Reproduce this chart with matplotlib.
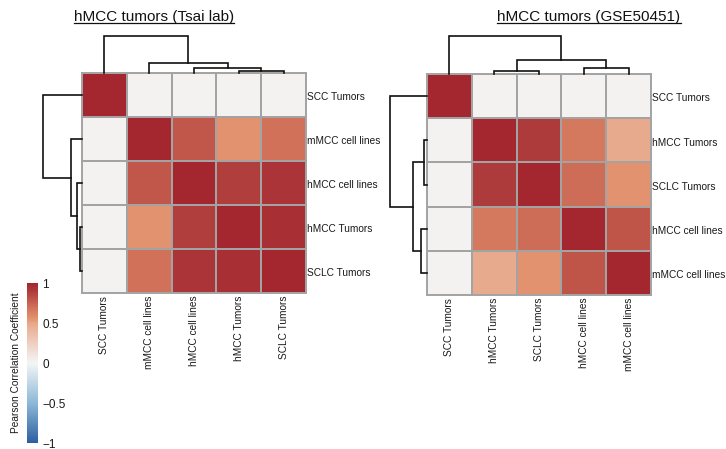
import numpy as np
import matplotlib
matplotlib.use("Agg")
import matplotlib.pyplot as plt
from matplotlib.colors import LinearSegmentedColormap
from matplotlib.lines import Line2D

plt.rcParams['font.family'] = ['Liberation Sans', 'DejaVu Sans']

# data
tsai_labels = ["SCC Tumors", "mMCC cell lines", "hMCC cell lines", "hMCC Tumors", "SCLC Tumors"]
tsai_corr = [
    [1.00, 0.02, 0.02, 0.02, 0.02],
    [0.02, 1.00, 0.79, 0.56, 0.69],
    [0.02, 0.79, 1.00, 0.89, 0.93],
    [0.02, 0.56, 0.89, 1.00, 0.96],
    [0.02, 0.69, 0.93, 0.96, 1.00],
]
# merges (a, b, height); ids >= 5 are the merged nodes
tsai_merges = [(3, 4, 0.06), (2, 5, 0.14), (1, 6, 0.28), (0, 7, 1.0)]

gse_labels = ["SCC Tumors", "hMCC Tumors", "SCLC Tumors", "hMCC cell lines", "mMCC cell lines"]
gse_corr = [
    [1.00, 0.02, 0.02, 0.02, 0.02],
    [0.02, 1.00, 0.90, 0.66, 0.49],
    [0.02, 0.90, 1.00, 0.71, 0.555],
    [0.02, 0.66, 0.71, 1.00, 0.80],
    [0.02, 0.49, 0.555, 0.80, 1.00],
]
gse_merges = [(1, 2, 0.08), (3, 4, 0.17), (5, 6, 0.37), (0, 7, 1.0)]

cbar_ticks = [-1, -0.5, 0, 0.5, 1]
cbar_ticklabels = ["\u22121", "\u22120.5", "0", "0.5", "1"]

cmap = LinearSegmentedColormap.from_list(
    "pcc", [(0.0, "#2c5fa0"), (0.25, "#8db8d8"), (0.5, "#f4f5f5"),
            (0.745, "#e8aa8d"), (0.78, "#e2926f"), (0.85, "#d07058"),
            (0.9, "#c0554a"), (0.95, "#ae3c3c"), (1.0, "#a4262f")])

W, H = 726, 449
fig = plt.figure(figsize=(W / 100, H / 100), dpi=100)


def px_axes(x0, y0, x1, y1):
    return fig.add_axes([x0 / W, 1 - y1 / H, (x1 - x0) / W, (y1 - y0) / H])


def dendro(ax, merges, n, side):
    pos = {i: i + 0.5 for i in range(n)}
    hgt = {i: 0.0 for i in range(n)}
    for k, (a, b, h) in enumerate(merges):
        xs = [pos[a], pos[a], pos[b], pos[b]]
        ys = [hgt[a], h, h, hgt[b]]
        if side == "top":
            ax.plot(xs, ys, color="#111111", lw=1.2, solid_joinstyle="miter", clip_on=False)
        else:
            ax.plot(ys, xs, color="#111111", lw=1.2, solid_joinstyle="miter", clip_on=False)
        pos[n + k] = (pos[a] + pos[b]) / 2
        hgt[n + k] = h
    if side == "top":
        ax.set_xlim(0, n)
        ax.set_ylim(0, 1)
    else:
        ax.set_ylim(n, 0)
        ax.set_xlim(1, 0)
    ax.axis("off")


def panel(x0, y0, x1, y1, corr, labels, merges, top_h, left_w, title, title_x):
    n = len(labels)
    ax = px_axes(x0, y0, x1, y1)
    m = ax.pcolormesh(np.arange(n + 1), np.arange(n + 1), np.array(corr), cmap=cmap,
                      vmin=-1, vmax=1, edgecolors="#a3a3a3", linewidth=1.2)
    ax.set_xlim(0, n)
    ax.set_ylim(n, 0)
    for s in ax.spines.values():
        s.set_color("#a3a3a3")
        s.set_linewidth(1.4)
    ax.set_xticks([])
    ax.set_yticks([])
    for i, lab in enumerate(labels):
        ax.text(n + 0.03, i + 0.55, lab, fontsize=7.3, va="center", ha="left", color="#1a1a1a")
        ax.text(i + 0.5, n + 0.06, lab, fontsize=7.3, rotation=90, va="top", ha="center",
                color="#1a1a1a")
    dendro(px_axes(x0, y0 - top_h, x1, y0), merges, n, "top")
    dendro(px_axes(x0 - left_w, y0, x0, y1), merges, n, "left")
    t = fig.text(title_x / W, 1 - 17 / H, title, fontsize=11, ha="center", va="center",
                 color="#111111")
    return m, t


m, t1 = panel(82, 73, 306, 293, tsai_corr, tsai_labels, tsai_merges, 37, 39,
              "hMCC tumors (Tsai lab)", 154)
_, t2 = panel(427, 74, 651, 295, gse_corr, gse_labels, gse_merges, 38, 37,
              "hMCC tumors (GSE50451)", 589)

# colorbar
cax = px_axes(27, 283, 38, 443)
cb = fig.colorbar(m, cax=cax)
cb.outline.set_visible(False)
cb.set_ticks(cbar_ticks)
cb.set_ticklabels(cbar_ticklabels)
cax.tick_params(length=0, labelsize=8.5, pad=3, colors="#1a1a1a")
cax.yaxis.set_label_position("left")
cax.set_ylabel("Pearson Correlation Coefficient", fontsize=7.3, labelpad=4, color="#1a1a1a")

# underline titles
fig.canvas.draw()
r = fig.canvas.get_renderer()
for t in (t1, t2):
    bb = t.get_window_extent(r).transformed(fig.transFigure.inverted())
    fig.add_artist(Line2D([bb.x0, bb.x1], [bb.y0 + 0.002, bb.y0 + 0.002],
                          transform=fig.transFigure, color="#111111", lw=0.9))

fig.savefig("out.png", dpi=100, facecolor="white")
